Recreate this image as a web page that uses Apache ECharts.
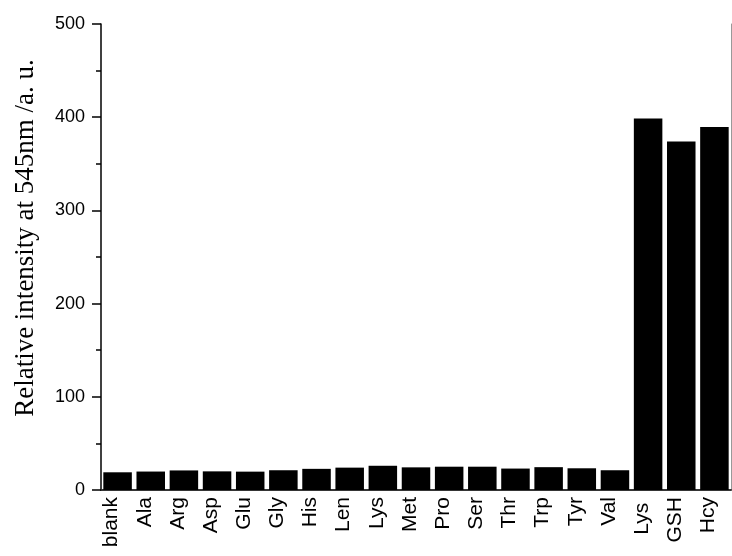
<!DOCTYPE html>
<html>
<head>
<meta charset="utf-8">
<script src="https://cdn.jsdelivr.net/npm/echarts@6/dist/echarts.min.js"></script>
<style>html,body{margin:0;padding:0;background:#fff}#c{width:732px;height:556px}</style>
</head>
<body>
<div id="c"></div>
<script>
var categories = ['blank','Ala','Arg','Asp','Glu','Gly','His','Len','Lys','Met','Pro','Ser','Thr','Trp','Tyr','Val','Lys ','GSH','Hcy'];
var intensity = [19, 19.8, 21, 20, 19.7, 21.2, 22.7, 24, 26, 24.3, 25, 25, 23, 24.5, 23.3, 21.2, 398.5, 374, 389.5];
var yTicks = [0, 100, 200, 300, 400, 500];
var yTitle = 'Relative intensity at 545nm /a. u.';

var chart = echarts.init(document.getElementById('c'), null, {renderer: 'canvas'});
chart.setOption({
  animation: false,
  backgroundColor: '#fff',
  grid: {left: 101, top: 24, width: 630, height: 466, containLabel: false, outerBoundsMode: 'none'},
  xAxis: [{
    type: 'category',
    data: categories,
    position: 'bottom',
    axisLine: {show: true, lineStyle: {color: '#000', width: 1.5}},
    axisTick: {show: false},
    axisLabel: {rotate: 90, interval: 0, hideOverlap: false, color: '#000', fontFamily: '"Liberation Sans", Arial, sans-serif', fontSize: 21, margin: 7,
      verticalAlign: 'bottom', lineHeight: 12}
  }, {
    type: 'category',
    data: categories,
    position: 'top',
    axisLine: {show: true, lineStyle: {color: '#333', width: 1.5}},
    axisTick: {show: false},
    axisLabel: {show: false}
  }],
  yAxis: [{
    type: 'value',
    min: 0, max: 500, interval: 100,
    axisLine: {show: true, lineStyle: {color: '#000', width: 1.5}},
    axisTick: {show: true, length: 9, lineStyle: {color: '#000', width: 1.5}},
    minorTick: {show: true, splitNumber: 2, length: 5, lineStyle: {color: '#000', width: 1.5}},
    splitLine: {show: false},
    axisLabel: {color: '#000', fontFamily: '"Liberation Sans", Arial, sans-serif', fontSize: 18, margin: 16,
      formatter: function (v) { return yTicks.indexOf(v) >= 0 ? String(v) : ''; }}
  }, {
    type: 'value', position: 'right', min: 0, max: 500,
    axisLine: {show: true, lineStyle: {color: '#999', width: 1}},
    axisTick: {show: false}, axisLabel: {show: false}, splitLine: {show: false}
  }],
  graphic: [{
    type: 'text',
    x: 26, y: 238,
    rotation: Math.PI / 2,
    style: {text: yTitle, fill: '#000', font: '27px "Liberation Serif", "Times New Roman", serif', align: 'center', verticalAlign: 'middle'}
  }],
  series: [{
    type: 'bar',
    data: intensity,
    barCategoryGap: '14%',
    itemStyle: {color: '#000'}
  }]
});
</script>
</body>
</html>
